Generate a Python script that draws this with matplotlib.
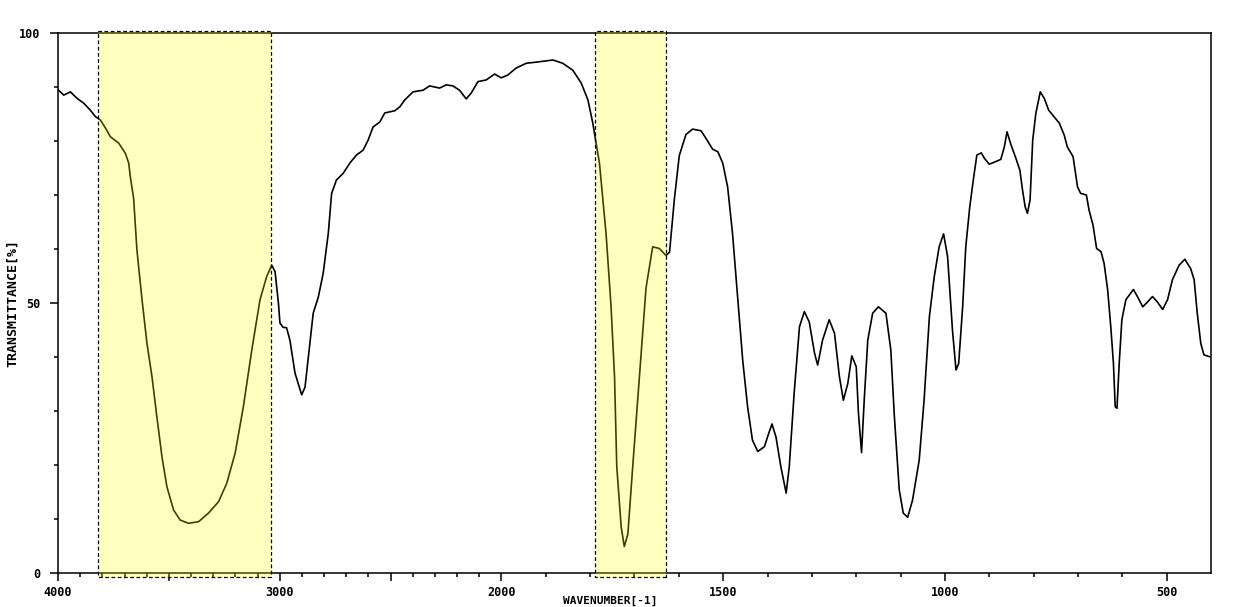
import numpy as np
import matplotlib
matplotlib.use('Agg')
from matplotlib import pyplot as plt
from matplotlib.patches import Rectangle
from matplotlib.ticker import FixedLocator

# IR spectrum
wavenumber = [
    4000, 3974, 3944, 3914, 3884, 3854, 3831, 3809, 3786, 3764, 3726, 3696,
    3681, 3674, 3659, 3644, 3621, 3599, 3576, 3554, 3531, 3509, 3479, 3449,
    3411, 3366, 3321, 3276, 3239, 3201, 3164, 3126, 3089, 3059, 3036, 3021,
    3006, 2999, 2985, 2969, 2954, 2931, 2901, 2886, 2871, 2849, 2826, 2804,
    2781, 2766, 2744, 2714, 2684, 2654, 2624, 2601, 2579, 2549, 2526, 2481,
    2459, 2436, 2399, 2354, 2324, 2279, 2249, 2219, 2189, 2159, 2136, 2106,
    2069, 2031, 2001, 1986, 1967, 1944, 1922, 1884, 1862, 1839, 1820, 1805,
    1794, 1779, 1764, 1753, 1745, 1740, 1730, 1723, 1715, 1704, 1689, 1674,
    1659, 1644, 1629, 1621, 1610, 1599, 1584, 1569, 1550, 1539, 1524, 1512,
    1501, 1490, 1479, 1467, 1456, 1445, 1434, 1422, 1407, 1400, 1390, 1381,
    1370, 1358, 1351, 1340, 1328, 1317, 1306, 1294, 1287, 1276, 1261, 1249,
    1238, 1229, 1219, 1210, 1200, 1195, 1188, 1182, 1174, 1163, 1150, 1133,
    1122, 1114, 1103, 1094, 1084, 1073, 1058, 1047, 1035, 1024, 1013, 1003,
    994, 983, 975, 969, 960, 953, 944, 936, 928, 918, 911, 900, 885, 874,
    866, 860, 851, 840, 831, 825, 819, 814, 808, 802, 795, 785, 776, 766,
    754, 742, 731, 724, 711, 701, 694, 681, 675, 666, 658, 648, 641, 633,
    626, 620, 616, 612, 607, 601, 592, 584, 575, 566, 554, 543, 532, 521,
    509, 498, 487, 472, 459, 446, 438, 431, 423, 416, 405, 400,
]
transmittance = [
    89.5, 88.5, 89.1, 87.9, 87.0, 85.7, 84.5, 83.9, 82.4, 80.8, 79.6, 77.7,
    75.9, 73.4, 69.4, 59.8, 50.6, 42.6, 36.3, 28.9, 21.5, 16.0, 11.7, 9.8,
    9.2, 9.5, 11.1, 13.2, 16.6, 22.2, 30.8, 41.3, 50.6, 54.9, 57.0, 55.8,
    50.0, 46.3, 45.5, 45.4, 43.1, 37.0, 33.0, 34.4, 40.0, 48.1, 51.1, 55.5,
    62.9, 70.3, 72.8, 74.0, 75.9, 77.4, 78.3, 80.2, 82.6, 83.5, 85.2, 85.6,
    86.3, 87.6, 89.1, 89.4, 90.2, 89.8, 90.4, 90.2, 89.4, 87.8, 88.9, 91.0,
    91.3, 92.4, 91.7, 92.2, 93.5, 94.4, 94.6, 95.0, 94.4, 93.1, 90.7, 87.6,
    83.3, 75.9, 62.7, 49.5, 36.3, 19.7, 8.5, 4.9, 7.2, 19.7, 36.3, 52.8,
    60.4, 60.1, 58.8, 59.4, 69.3, 77.3, 81.2, 82.2, 81.9, 80.5, 78.5, 78.0,
    75.9, 71.5, 62.9, 50.6, 39.4, 30.8, 24.6, 22.5, 23.4, 25.2, 27.6, 25.2,
    19.7, 14.8, 19.7, 33.3, 45.6, 48.4, 46.5, 40.7, 38.5, 43.1, 46.9, 44.4,
    36.4, 32.0, 35.1, 40.2, 38.2, 29.6, 22.3, 32.0, 43.1, 48.1, 49.3, 48.1,
    41.3, 29.0, 15.4, 11.1, 10.3, 13.5, 20.9, 32.0, 47.5, 54.9, 60.4, 62.8,
    58.6, 45.0, 37.6, 38.8, 49.3, 60.4, 67.8, 72.8, 77.4, 77.8, 76.8, 75.7, 76.2, 76.6,
    78.9, 81.7, 79.3, 76.8, 74.6, 70.9, 67.8, 66.6, 69.1, 80.2, 85.1, 89.1, 87.9, 85.7,
    84.5, 83.3, 81.1, 78.9, 77.1, 71.5, 70.3, 70.0, 67.2, 64.4, 60.1, 59.5, 57.3, 52.4,
    45.6, 38.8, 30.8, 30.5, 38.8, 46.9, 50.6, 51.5, 52.5, 51.2, 49.3, 50.2, 51.2, 50.2,
    48.8, 50.6, 54.3, 57.0, 58.1, 56.4, 54.3, 48.1, 42.5, 40.4, 40.1, 40.0,
]

# highlighted bands (cm-1)
bands = [(3820, 3040), (1790, 1630)]

major_ticks = [4000, 3500, 3000, 2500, 2000, 1500, 1000, 500]
major_labels = ['4000', '', '3000', '', '2000', '1500', '1000', '500']


# above 2000 cm-1 the axis is compressed by half
def fwd(w):
    w = np.asarray(w, dtype=float)
    return np.where(w <= 2000, w, 2000 + (w - 2000) / 2)


def inv(p):
    p = np.asarray(p, dtype=float)
    return np.where(p <= 2000, p, 2000 + (p - 2000) * 2)


font = 'DejaVu Sans Mono'

fig = plt.figure(figsize=(12.42, 6.07), dpi=100)
ax = fig.add_axes([58 / 1242, 1 - 573 / 607, (1211 - 58) / 1242, (573 - 33) / 607])

ax.plot(wavenumber, transmittance, color='black', lw=1.2, zorder=2)

ax.set_xscale('function', functions=(fwd, inv))
ax.set_xlim(4000, 400)
ax.set_ylim(0, 100)

for hi, lo in bands:
    ax.add_patch(Rectangle((lo, -0.8), hi - lo, 101.2,
                           facecolor=(1, 1, 0, 0.25), edgecolor='black',
                           linestyle=(0, (3, 2)), lw=0.9, clip_on=False,
                           zorder=3))

ax.xaxis.set_major_locator(FixedLocator(major_ticks))
ax.set_xticklabels(major_labels)
ax.xaxis.set_minor_locator(FixedLocator(
    [w for w in range(500, 4000, 100) if w not in major_ticks]))
ax.yaxis.set_major_locator(FixedLocator([0, 50, 100]))
ax.yaxis.set_minor_locator(FixedLocator(range(10, 100, 10)))

ax.tick_params(axis='x', which='major', direction='out', length=6, width=1.1,
               pad=3, labelsize=8.5)
ax.tick_params(axis='x', which='minor', direction='out', length=3, width=1.1)
ax.tick_params(axis='y', which='major', direction='out', length=6, width=1.1,
               pad=7, labelsize=8.5)
ax.tick_params(axis='y', which='minor', direction='out', length=3, width=1.1)
for lab in ax.get_xticklabels() + ax.get_yticklabels():
    lab.set_family(font)
    lab.set_fontweight('bold')

for sp in ax.spines.values():
    sp.set_linewidth(1.1)

fig.text(13 / 1242, 1 - 303 / 607, 'TRANSMITTANCE[%]', rotation=90,
         ha='center', va='center', family=font, fontsize=9.5,
         fontweight='bold')
fig.text(610 / 1242, 1 / 607, 'WAVENUMBER[-1]', ha='center', va='bottom',
         family=font, fontsize=8, fontweight='bold')

plt.savefig('out.png', dpi=100)
plt.close()
